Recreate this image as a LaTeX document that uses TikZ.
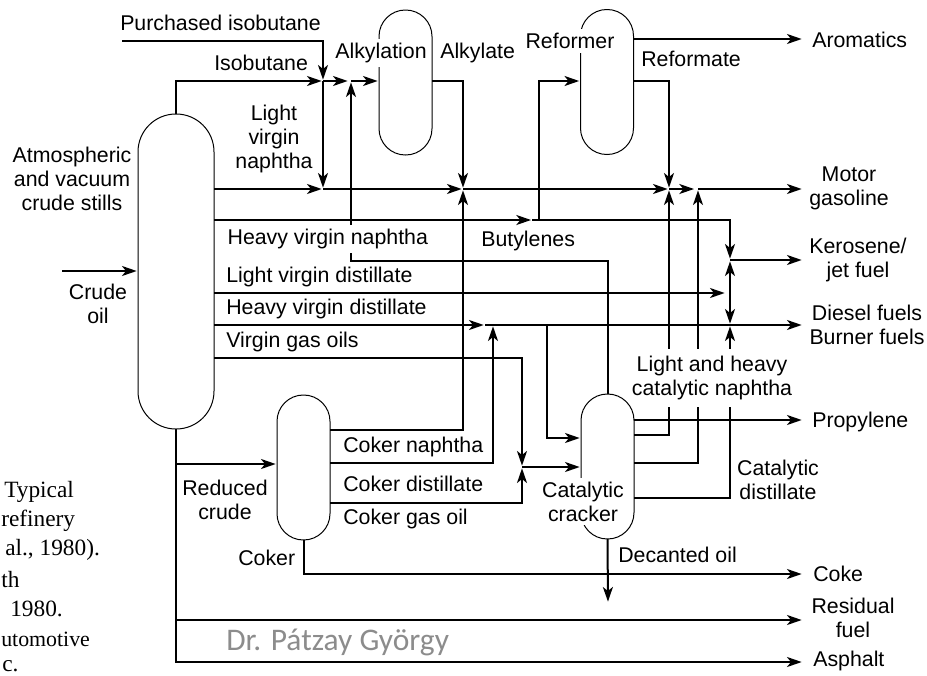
\documentclass[tikz,border=0pt]{standalone}
\usepackage{fontspec}
\usepackage{xcolor}
\setmainfont{Liberation Sans}
\newfontfamily\capfont{Liberation Serif}
\newfontfamily\markfont{Carlito}
\usetikzlibrary{arrows.meta,positioning}
\definecolor{markgray}{RGB}{140,140,140}

\begin{document}
\begin{tikzpicture}[
    x=0.75pt,y=-0.75pt,
    vessel/.style={rectangle,draw,line width=0.75pt,outer sep=0pt,inner sep=0pt,
      minimum width=39.75pt,minimum height=108.75pt,rounded corners=19.8pt},
    arrow/.style={-{Stealth[length=11pt,width=7.5pt,inset=3pt]},line width=1.5pt,shorten >=1pt},
    dblarrow/.style={{Stealth[length=11pt,width=7.5pt,inset=3pt]}-{Stealth[length=11pt,width=7.5pt,inset=3pt]},
      line width=1.5pt,shorten >=1pt,shorten <=1pt},
    lbl/.style={inner sep=0pt,align=center,font=\fontsize{16}{18}\selectfont},
    gaplbl/.style={lbl,fill=white,inner xsep=1pt,inner ysep=3pt},
    caplbl/.style={inner sep=0pt,anchor=west,font=\capfont\fontsize{17.5}{19}\selectfont}
  ]
    \useasboundingbox (0,0) rectangle (927,675);

    % columns
    \node[vessel,minimum width=57pt,minimum height=236.25pt,rounded corners=28.4pt] (still) at (176,271.5) {};
    \node[vessel] (alky) at (405.5,82.5) {};
    \node[vessel] (reform) at (607,82) {};
    \node[vessel] (coker) at (303.5,467.5) {};
    \node[vessel] (crack) at (607.5,466.5) {};

    % junctions and free ends
    \coordinate (pur) at (122,41);
    \coordinate (feed) at (62,271);
    \coordinate (jIso) at (323,81);
    \coordinate (jAlk) at (351,81);
    \coordinate (jLvn) at (323,189);
    \coordinate (jGasA) at (463,189);
    \coordinate (jGasB) at (669,189);
    \coordinate (jGasC) at (698,189);
    \coordinate (jHvn) at (539,220);
    \coordinate (jHvnB) at (532,220);
    \coordinate (jKero) at (730,260);
    \coordinate (jLvd) at (726,293);
    \coordinate (jHvd) at (493,325);
    \coordinate (jHvdB) at (485,325);
    \coordinate (jDies) at (730,325);
    \coordinate (jCat) at (522,467);
    \coordinate (hvdB) at (547,325);
    \coordinate (crIn) at (547,438);
    \coordinate (butL) at (351,261);
    \coordinate (vgo) at (522,358);
    \coordinate (cokA) at (463,430);
    \coordinate (cokB) at (493,463);
    \coordinate (cokC) at (522,503);
    \coordinate (catA) at (669,435);
    \coordinate (catB) at (698,463);
    \coordinate (catC) at (730,498);
    \coordinate (jRed) at (176,464);
    \coordinate (dec) at (608,603);
    \coordinate (oArom) at (803,39);
    \coordinate (oGas) at (803,189);
    \coordinate (oKero) at (803,260);
    \coordinate (oDies) at (803,325);
    \coordinate (oProp) at (803,420);
    \coordinate (oCoke) at (803,574);
    \coordinate (oResi) at (803,620);
    \coordinate (oAsph) at (803,662);

    \draw[arrow] (pur) -| (jIso);
    \draw[arrow] (still.north) |- (jIso);
    \draw[arrow,shorten >=2.5pt] (jIso) -- (jAlk);
    \draw[arrow] (jAlk) -- (alky.west |- jAlk);
    \draw[arrow] (jIso) -- (jLvn);
    \draw[arrow] (still.east |- jLvn) -- (jLvn);
    \draw[arrow] (jLvn) -- (jGasA);
    \draw[arrow] (alky.east |- jAlk) -| (jGasA);
    \draw[arrow] (coker.east |- cokA) -- (cokA) -- (jGasA);
    \draw[arrow] (jGasA) -- (jGasB);
    \draw[arrow,shorten >=3pt] (jGasB) -- (jGasC);
    \draw[arrow] (jGasC) -- (oGas);
    \draw[arrow] (reform.east |- oArom) -- (oArom);
    \draw[arrow] (reform.east |- jAlk) -| (jGasB);
    \draw[arrow,shorten >=6pt] (still.east |- jHvn) -- (jHvn);
    \draw[arrow] (jHvn) |- (reform.west |- jAlk);
    \draw[arrow] (jHvnB) -| (jKero);
    \draw[arrow] (jKero) -- (oKero);
    \draw[arrow] (still.east |- jLvd) -- (jLvd);
    \draw[arrow,shorten >=7pt] (still.east |- jHvd) -- (jHvd);
    \draw[arrow] (jHvdB) -- (oDies);
    \draw[dblarrow] (jKero) -- (jDies);
    \draw[arrow] (still.east |- vgo) -- (vgo) -- (jCat);
    \draw[arrow] (coker.east |- cokB) -- (cokB) -- (jHvd);
    \draw[arrow] (coker.east |- cokC) -- (cokC) -- (jCat);
    \draw[arrow] (jCat) -- (crack.west |- jCat);
    \draw[arrow] (hvdB) -- (crIn) -- (crack.west |- crIn);
    \draw[arrow] (crack.north) |- (butL) -- (jAlk);
    \draw[arrow] (crack.east |- catA) -- (catA) -- (jGasB);
    \draw[arrow] (crack.east |- catB) -- (catB) -- (jGasC);
    \draw[arrow] (crack.east |- catC) -- (catC) -- (jDies);
    \draw[arrow] (crack.east |- oProp) -- (oProp);
    \draw[arrow] (crack.south) -- (dec);
    \draw[arrow] (coker.south) |- (oCoke);
    \draw[arrow] (feed) -- (still.west |- feed);
    \draw[arrow] (jRed) -- (coker.west |- jRed);
    \draw[arrow] (still.south) |- (oAsph);
    \draw[arrow] (still.south |- oResi) -- (oResi);

    % labels
    \node[lbl,anchor=west] (lpur) at (120,23) {Purchased isobutane};
    \node[lbl,anchor=west] (liso) at (214,63) {Isobutane};
    \node[gaplbl] (lalky) at (381,53) {Alkylation};
    \node[lbl,anchor=west] (lalkt) at (440,53) {Alkylate};
    \node[gaplbl] (lref) at (570,41) {Reformer};
    \node[lbl,anchor=west] (lreft) at (641,59) {Reformate};
    \node[lbl,anchor=west] (larom) at (812,40) {Aromatics};
    \node[lbl] (llvn) at (274,139) {Light\\virgin\\naphtha};
    \node[lbl] (lstill) at (72,179) {Atmospheric\\and vacuum\\crude stills};
    \node[lbl] (lcrude) at (98,304) {Crude\\oil};
    \node[lbl] (lgas) at (849,188) {Motor\\gasoline};
    \node[gaplbl,anchor=west] (lhvn) at (226,239) {Heavy virgin naphtha};
    \node[lbl,anchor=west] (lbut) at (481,241) {Butylenes};
    \node[lbl,anchor=west] (llvd) at (226,277) {Light virgin distillate};
    \node[lbl,anchor=west] (lhvd) at (226,309) {Heavy virgin distillate};
    \node[lbl,anchor=west] (lvgo) at (226,342) {Virgin gas oils};
    \node[lbl] (lkero) at (858,260) {Kerosene/\\jet fuel};
    \node[lbl] (ldies) at (867,325) {Diesel fuels\\Burner fuels};
    \node[gaplbl,inner ysep=5pt] (lcat) at (712,378) {Light and heavy\\catalytic naphtha};
    \node[lbl,anchor=west] (lprop) at (812,422) {Propylene};
    \node[lbl] (lcatd) at (778,480) {Catalytic\\distillate};
    \node[gaplbl] (lcrack) at (583,501.5) {Catalytic\\cracker};
    \node[lbl,anchor=west] (lcokn) at (343,447) {Coker naphtha};
    \node[lbl,anchor=west] (lcokd) at (343,484) {Coker distillate};
    \node[lbl,anchor=west] (lcokg) at (343,519) {Coker gas oil};
    \node[lbl] (lred) at (225,500) {Reduced\\crude};
    \node[lbl,anchor=west] (lcok) at (238,558) {Coker};
    \node[lbl,anchor=west] (ldec) at (618,555) {Decanted oil};
    \node[lbl,anchor=west] (lcoke) at (813,574) {Coke};
    \node[lbl] (lres) at (853,618) {Residual\\fuel};
    \node[lbl,anchor=west] (lasph) at (813,661) {Asphalt};

    % cut off caption on the left
    \node[caplbl] (cap1) at (4,492) {Typical};
    \node[caplbl] (cap2) at (1,521) {refinery};
    \node[caplbl] (cap3) at (5,550) {al., 1980).};
    \node[caplbl] (cap4) at (1,580) {th};
    \node[caplbl] (cap5) at (10,609) {1980.};
    \node[caplbl,font=\capfont\fontsize{16.4}{18}\selectfont] (cap6) at (1,639) {utomotive};
    \node[caplbl] (cap7) at (2,666) {c.};

    \node[inner sep=0pt,anchor=west,text=markgray,font=\markfont\fontsize{23.6}{26}\selectfont] (mark) at (226,642) {Dr. Pátzay György};
\end{tikzpicture}
\end{document}
